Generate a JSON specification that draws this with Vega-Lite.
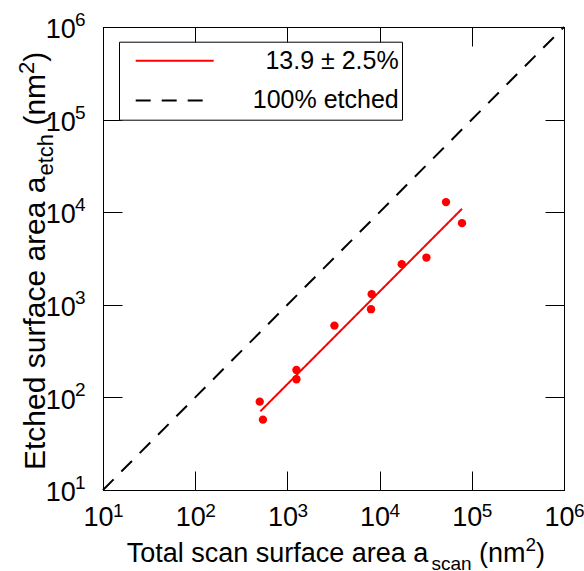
{
  "$schema": "https://vega.github.io/schema/vega-lite/v6.json",
  "width": 461,
  "height": 463,
  "autosize": "none",
  "padding": {"left": 103, "top": 27, "right": 20, "bottom": 81},
  "background": "white",
  "config": {
    "view": {"stroke": "black", "strokeWidth": 1},
    "font": "Liberation Sans",
    "text": {"font": "Liberation Sans", "color": "black"}
  },
  "datasets": {
    "points": [
      {"a_scan": 501, "a_etch": 90},
      {"a_scan": 543, "a_etch": 57.5},
      {"a_scan": 1253, "a_etch": 198},
      {"a_scan": 1253, "a_etch": 157},
      {"a_scan": 3236, "a_etch": 596},
      {"a_scan": 8206, "a_etch": 1303},
      {"a_scan": 8070, "a_etch": 897},
      {"a_scan": 17378, "a_etch": 2748},
      {"a_scan": 32200, "a_etch": 3236},
      {"a_scan": 52500, "a_etch": 12850},
      {"a_scan": 78300, "a_etch": 7620}
    ],
    "lines": [
      {"series": "100% etched", "x": 10, "y": 10},
      {"series": "100% etched", "x": 1000000, "y": 1000000},
      {"series": "13.9 ± 2.5%", "x": 509, "y": 70.8},
      {"series": "13.9 ± 2.5%", "x": 78300, "y": 10884}
    ],
    "exps": [
      {"v": 10, "e": "1"},
      {"v": 100, "e": "2"},
      {"v": 1000, "e": "3"},
      {"v": 10000, "e": "4"},
      {"v": 100000, "e": "5"},
      {"v": 1000000, "e": "6"}
    ]
  },
  "layer": [
    {
      "data": {"name": "lines"},
      "mark": {"type": "line", "strokeWidth": 2},
      "encoding": {
        "x": {"field": "x", "type": "quantitative",
          "scale": {"type": "log", "domain": [10, 1000000], "nice": false},
          "axis": {"orient": "top", "values": [10, 100, 1000, 10000, 100000, 1000000], "labels": false, "tickSize": -19, "tickColor": "black", "domainColor": "black", "grid": false, "title": null}},
        "y": {"field": "y", "type": "quantitative",
          "scale": {"type": "log", "domain": [10, 1000000], "nice": false},
          "axis": {"orient": "right", "values": [10, 100, 1000, 10000, 100000, 1000000], "labels": false, "tickSize": -19, "tickColor": "black", "domainColor": "black", "grid": false, "title": null}},
        "color": {"field": "series", "type": "nominal",
          "scale": {"domain": ["13.9 ± 2.5%", "100% etched"], "range": ["#ff0000", "#000000"]},
          "legend": {"orient": "none", "legendX": 16, "legendY": 14.7, "title": null, "strokeColor": "black", "fillColor": "white", "padding": 3, "symbolOffset": 12.7, "symbolSize": 6084, "symbolStrokeWidth": 2, "symbolType": "stroke", "clipHeight": 32, "rowPadding": 7.7, "labelOffset": 184, "labelFontSize": 25, "labelFont": "Liberation Sans", "labelColor": "black", "labelLimit": 300, "labelAlign": "right", "labelBaseline": "middle"}},
        "strokeDash": {"field": "series", "type": "nominal",
          "scale": {"domain": ["13.9 ± 2.5%", "100% etched"], "range": [[1, 0], [15, 11]]},
          "legend": {"orient": "none", "legendX": 16, "legendY": 14.7, "title": null, "strokeColor": "black", "fillColor": "white", "padding": 3, "symbolOffset": 12.7, "symbolSize": 6084, "symbolStrokeWidth": 2, "symbolType": "stroke", "clipHeight": 32, "rowPadding": 7.7, "labelOffset": 184, "labelFontSize": 25, "labelFont": "Liberation Sans", "labelColor": "black", "labelLimit": 300, "labelAlign": "right", "labelBaseline": "middle"}}
      }
    },
    {
      "data": {"name": "points"},
      "mark": {"type": "circle", "size": 70, "opacity": 1, "color": "#ff0000"},
      "encoding": {
        "x": {"field": "a_scan", "type": "quantitative",
          "scale": {"type": "log", "domain": [10, 1000000], "nice": false},
          "axis": {"orient": "bottom", "values": [10, 100, 1000, 10000, 100000, 1000000], "labelExpr": "'10'", "labelFontSize": 27, "labelFont": "Liberation Sans", "labelColor": "black", "labelAlign": "center", "labelOffset": -5, "labelBaseline": "alphabetic", "labelPadding": 54, "labelFlush": false, "labelOverlap": false, "labelBound": false, "tickSize": -19, "tickColor": "black", "domainColor": "black", "grid": false, "title": null}},
        "y": {"field": "a_etch", "type": "quantitative",
          "scale": {"type": "log", "domain": [10, 1000000], "nice": false},
          "axis": {"orient": "left", "values": [10, 100, 1000, 10000, 100000, 1000000], "labelExpr": "'10'", "labelFontSize": 27, "labelFont": "Liberation Sans", "labelColor": "black", "labelAlign": "right", "labelOffset": 10.7, "labelBaseline": "alphabetic", "labelPadding": 46.8, "labelFlush": false, "labelOverlap": false, "labelBound": false, "tickSize": -19, "tickColor": "black", "domainColor": "black", "grid": false, "title": null}}
      }
    },
    {
      "data": {"name": "exps"},
      "mark": {"type": "text", "align": "left", "baseline": "alphabetic", "fontSize": 19, "dx": 10, "dy": 26.5},
      "encoding": {
        "x": {"field": "v", "type": "quantitative", "axis": null},
        "y": {"datum": 10, "type": "quantitative", "axis": null},
        "text": {"field": "e"}
      }
    },
    {
      "data": {"name": "exps"},
      "mark": {"type": "text", "align": "left", "baseline": "alphabetic", "fontSize": 19, "dx": -28, "dy": -1},
      "encoding": {
        "x": {"datum": 10, "type": "quantitative", "axis": null},
        "y": {"field": "v", "type": "quantitative", "axis": null},
        "text": {"field": "e"}
      }
    },
    {
      "data": {"values": [{"t": "Total scan surface area a"}]},
      "mark": {"type": "text", "align": "left", "baseline": "alphabetic", "fontSize": 27, "dx": 23.7, "dy": 72},
      "encoding": {"x": {"datum": 10, "type": "quantitative", "axis": null}, "y": {"datum": 10, "type": "quantitative", "axis": null}, "text": {"field": "t"}}
    },
    {
      "data": {"values": [{"t": "scan"}]},
      "mark": {"type": "text", "align": "left", "baseline": "alphabetic", "fontSize": 19, "dx": 328.4, "dy": 80},
      "encoding": {"x": {"datum": 10, "type": "quantitative", "axis": null}, "y": {"datum": 10, "type": "quantitative", "axis": null}, "text": {"field": "t"}}
    },
    {
      "data": {"values": [{"t": "(nm"}]},
      "mark": {"type": "text", "align": "left", "baseline": "alphabetic", "fontSize": 27, "dx": 375.9, "dy": 72},
      "encoding": {"x": {"datum": 10, "type": "quantitative", "axis": null}, "y": {"datum": 10, "type": "quantitative", "axis": null}, "text": {"field": "t"}}
    },
    {
      "data": {"values": [{"t": "2"}]},
      "mark": {"type": "text", "align": "left", "baseline": "alphabetic", "fontSize": 19, "dx": 422.4, "dy": 61},
      "encoding": {"x": {"datum": 10, "type": "quantitative", "axis": null}, "y": {"datum": 10, "type": "quantitative", "axis": null}, "text": {"field": "t"}}
    },
    {
      "data": {"values": [{"t": ")"}]},
      "mark": {"type": "text", "align": "left", "baseline": "alphabetic", "fontSize": 27, "dx": 433, "dy": 72},
      "encoding": {"x": {"datum": 10, "type": "quantitative", "axis": null}, "y": {"datum": 10, "type": "quantitative", "axis": null}, "text": {"field": "t"}}
    },
    {
      "data": {"values": [{"t": "Etched surface area a"}]},
      "mark": {"type": "text", "align": "left", "baseline": "alphabetic", "fontSize": 30, "angle": 270, "dx": 20, "dy": -58.5},
      "encoding": {"x": {"datum": 10, "type": "quantitative", "axis": null}, "y": {"datum": 10, "type": "quantitative", "axis": null}, "text": {"field": "t"}}
    },
    {
      "data": {"values": [{"t": "etch"}]},
      "mark": {"type": "text", "align": "left", "baseline": "alphabetic", "fontSize": 22, "angle": 270, "dx": 314.5, "dy": -50.5},
      "encoding": {"x": {"datum": 10, "type": "quantitative", "axis": null}, "y": {"datum": 10, "type": "quantitative", "axis": null}, "text": {"field": "t"}}
    },
    {
      "data": {"values": [{"t": "(nm"}]},
      "mark": {"type": "text", "align": "left", "baseline": "alphabetic", "fontSize": 30, "angle": 270, "dx": 364.4, "dy": -58.5},
      "encoding": {"x": {"datum": 10, "type": "quantitative", "axis": null}, "y": {"datum": 10, "type": "quantitative", "axis": null}, "text": {"field": "t"}}
    },
    {
      "data": {"values": [{"t": "2"}]},
      "mark": {"type": "text", "align": "left", "baseline": "alphabetic", "fontSize": 22, "angle": 270, "dx": 416.1, "dy": -69.5},
      "encoding": {"x": {"datum": 10, "type": "quantitative", "axis": null}, "y": {"datum": 10, "type": "quantitative", "axis": null}, "text": {"field": "t"}}
    },
    {
      "data": {"values": [{"t": ")"}]},
      "mark": {"type": "text", "align": "left", "baseline": "alphabetic", "fontSize": 30, "angle": 270, "dx": 428.3, "dy": -58.5},
      "encoding": {"x": {"datum": 10, "type": "quantitative", "axis": null}, "y": {"datum": 10, "type": "quantitative", "axis": null}, "text": {"field": "t"}}
    }
  ],
  "resolve": {"axis": {"x": "independent", "y": "independent"}}
}
